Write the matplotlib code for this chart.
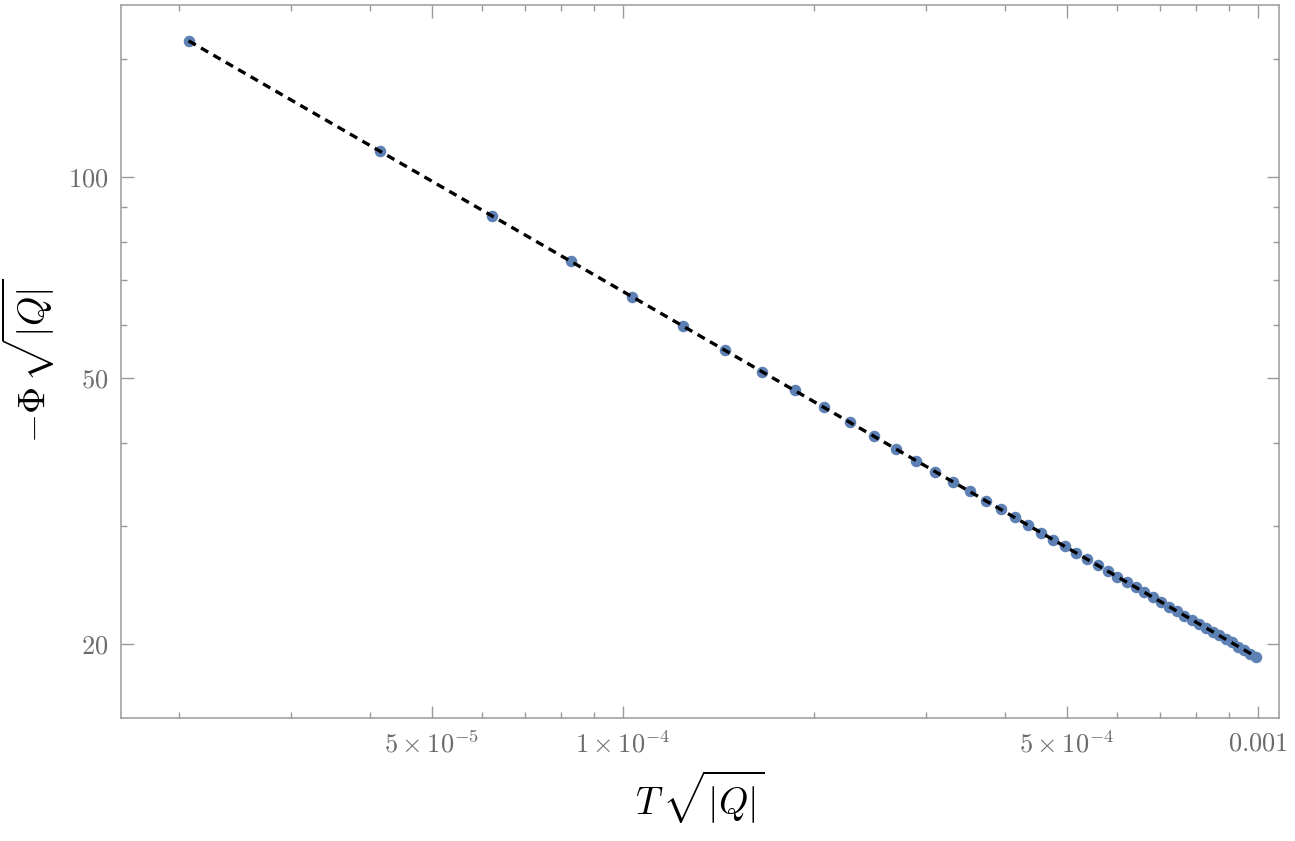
import matplotlib
matplotlib.use('Agg')
import matplotlib.pyplot as plt
from matplotlib.ticker import FixedLocator, FixedFormatter, NullFormatter

import numpy as np

plt.rcParams['mathtext.fontset'] = 'cm'
plt.rcParams['font.family'] = 'serif'
plt.rcParams['font.serif'] = ['DejaVu Serif']

# T*sqrt(|Q|) values
T = [2.07e-5, 4.14e-5, 6.21e-5, 8.28e-5, 1.035e-4, 1.242e-4, 1.449e-4, 1.656e-4,
     1.863e-4, 2.07e-4, 2.277e-4, 2.484e-4, 2.691e-4, 2.898e-4, 3.105e-4, 3.312e-4,
     3.519e-4, 3.726e-4, 3.933e-4, 4.14e-4, 4.347e-4, 4.554e-4, 4.761e-4, 4.968e-4,
     5.175e-4, 5.382e-4, 5.589e-4, 5.796e-4, 6.003e-4, 6.21e-4, 6.417e-4, 6.624e-4,
     6.831e-4, 7.038e-4, 7.245e-4, 7.452e-4, 7.659e-4, 7.866e-4, 8.073e-4, 8.28e-4,
     8.487e-4, 8.694e-4, 8.901e-4, 9.108e-4, 9.315e-4, 9.522e-4, 9.729e-4, 9.936e-4]
# -Phi*sqrt(|Q|)
phi = [159.8, 109.3, 87.5, 74.7, 66.1, 59.8, 55.0, 51.1, 47.9, 45.2, 42.9, 40.9,
       39.1, 37.6, 36.2, 34.9, 33.8, 32.7, 31.8, 30.9, 30.1, 29.3, 28.6, 28.0,
       27.3, 26.8, 26.2, 25.7, 25.2, 24.7, 24.3, 23.9, 23.5, 23.1, 22.7, 22.4,
       22.0, 21.7, 21.4, 21.1, 20.8, 20.6, 20.3, 20.1, 19.8, 19.6, 19.3, 19.1]

x_major = [5e-5, 1e-4, 5e-4, 1e-3]
x_major_labels = [r'$5\times10^{-5}$', r'$1\times10^{-4}$', r'$5\times10^{-4}$', r'$0.001$']
x_minor = [2e-5, 3e-5, 4e-5, 6e-5, 7e-5, 8e-5, 9e-5,
           2e-4, 3e-4, 4e-4, 6e-4, 7e-4, 8e-4, 9e-4]
y_major = [20, 50, 100]
y_major_labels = [r'$20$', r'$50$', r'$100$']
y_minor = [30, 40, 60, 70, 80, 90, 150]

x = np.array(T)
y = np.array(phi)

# power-law fit through the points
p = np.polyfit(np.log10(x), np.log10(y), 1)
xf = np.array([x.min(), x.max()])
yf = 10 ** np.polyval(p, np.log10(xf))

fig = plt.figure(figsize=(12.95, 8.41), dpi=100)
ax = fig.add_axes([0.0934, 0.1463, 0.8942, 0.8478])

ax.plot(x, y, 'o', color='#5e81b5', markersize=8.3, markeredgewidth=0, zorder=2)
ax.plot(xf, yf, color='black', lw=2.4, linestyle=(0, (2.5, 1.8)), zorder=3)

ax.set_xscale('log')
ax.set_yscale('log')
ax.set_xlim(1.62e-5, 1.079e-3)
ax.set_ylim(15.48, 180.9)

ax.xaxis.set_major_locator(FixedLocator(x_major))
ax.xaxis.set_major_formatter(FixedFormatter(x_major_labels))
ax.xaxis.set_minor_locator(FixedLocator(x_minor))
ax.xaxis.set_minor_formatter(NullFormatter())
ax.yaxis.set_major_locator(FixedLocator(y_major))
ax.yaxis.set_major_formatter(FixedFormatter(y_major_labels))
ax.yaxis.set_minor_locator(FixedLocator(y_minor))
ax.yaxis.set_minor_formatter(NullFormatter())

gray = '#9a9a9a'
for s in ax.spines.values():
    s.set_color(gray)
    s.set_linewidth(1.1)
ax.tick_params(which='both', direction='in', top=True, right=True, color=gray,
               width=1.0, labelcolor='#6b6b6b', labelsize=19, pad=9)
ax.tick_params(which='major', length=9)
ax.tick_params(which='minor', length=4.5)

ax.set_xlabel(r'$T\,\sqrt{|Q|}$', fontsize=27, labelpad=8)
ax.set_ylabel(r'$-\Phi\,\sqrt{|Q|}$', fontsize=27, labelpad=8)

fig.savefig('out.png', dpi=100)
